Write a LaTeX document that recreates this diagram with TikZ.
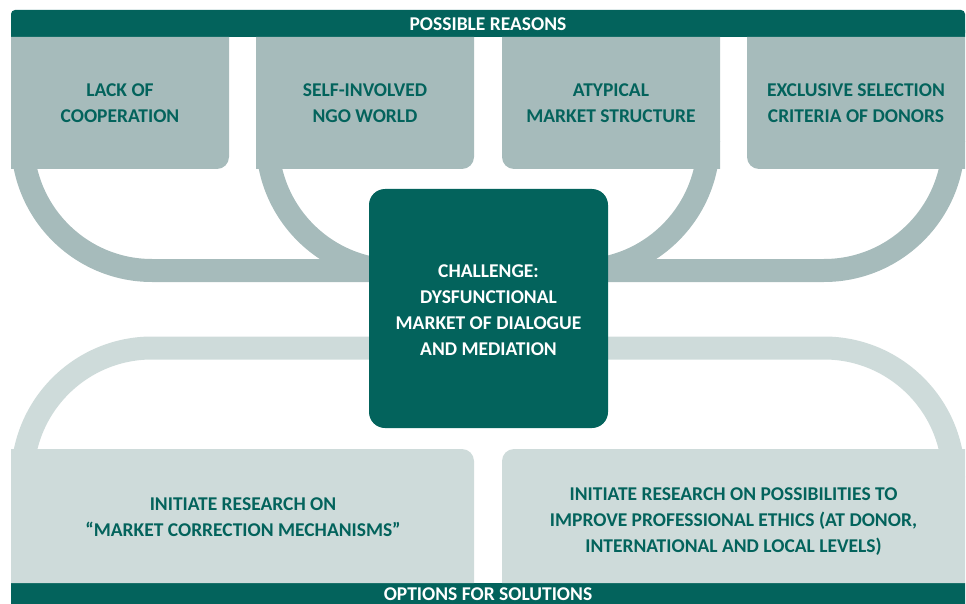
\documentclass[tikz,border=0pt]{standalone}
\usepackage{fontspec}
\setmainfont{Carlito}
\definecolor{darkteal}{RGB}{3,99,92}
\definecolor{reasongrey}{RGB}{166,187,187}
\definecolor{solutiongrey}{RGB}{206,219,218}
\begin{document}
\begin{tikzpicture}[x=1pt, y=-1pt,
    every node/.style={font=\bfseries\fontsize{19.5}{26}\selectfont, align=center},
    boxtext/.style={text=darkteal},
    bartext/.style={text=white, inner sep=1pt}]
  \useasboundingbox (0,0) rectangle (966,604);
  % bars
  \fill[darkteal, rounded corners=4pt] (11,10) rectangle (965,37);
  \fill[darkteal] (11,30) rectangle (965,37) (11,583) rectangle (965,604);
  % left half, then the same mirrored
  \foreach \o/\s in {0/1, 976/-1} {
    \begin{scope}[xshift=\o pt, xscale=\s]
      \foreach \x in {11,256} {
        \fill[reasongrey] (\x,37) -- (\x+218,37) -- (\x+218,157) .. controls (\x+218,163.6) and (\x+212.6,169) .. (\x+206,169) -- (\x,169) -- cycle;
        \draw[reasongrey, line width=23pt] (\x+11.5,141) .. controls (\x+11.5,212.5) and (\x+69.5,270.5) .. (\x+141,270.5) -- (420,270.5);
      }
      \fill[solutiongrey] (11,583) -- (11,449) -- (462,449) .. controls (468.6,449) and (474,454.4) .. (474,461) -- (474,583) -- cycle;
      \draw[solutiongrey, line width=23pt] (420,348) -- (152,348) .. controls (80.5,348) and (22.5,406) .. (22.5,477.5);
    \end{scope}
  }
  \node[fill=darkteal, rounded corners=16pt, minimum width=239pt, minimum height=239pt] (challenge) at (488.5,308.5) {};
  \node[text=white] (challengetext) at (488.5,310.5) {CHALLENGE:\\DYSFUNCTIONAL\\MARKET OF DIALOGUE\\AND MEDIATION};
  \node[bartext] (reasons) at (488,24) {POSSIBLE REASONS};
  \node[bartext] (solutions) at (488,594.5) {OPTIONS FOR SOLUTIONS};
  \node[boxtext] (lack) at (120,103) {LACK OF\\COOPERATION};
  \node[boxtext] (ngo) at (365,103) {SELF-INVOLVED\\NGO WORLD};
  \node[boxtext] (market) at (611,103) {ATYPICAL\\MARKET STRUCTURE};
  \node[boxtext] (donors) at (856,103) {EXCLUSIVE SELECTION\\CRITERIA OF DONORS};
  \node[boxtext] (research) at (243,517) {INITIATE RESEARCH ON\\“MARKET CORRECTION MECHANISMS”};
  \node[boxtext] (ethics) at (733.5,521.5) {INITIATE RESEARCH ON POSSIBILITIES TO\\IMPROVE PROFESSIONAL ETHICS (AT DONOR,\\INTERNATIONAL AND LOCAL LEVELS)};
\end{tikzpicture}
\end{document}
